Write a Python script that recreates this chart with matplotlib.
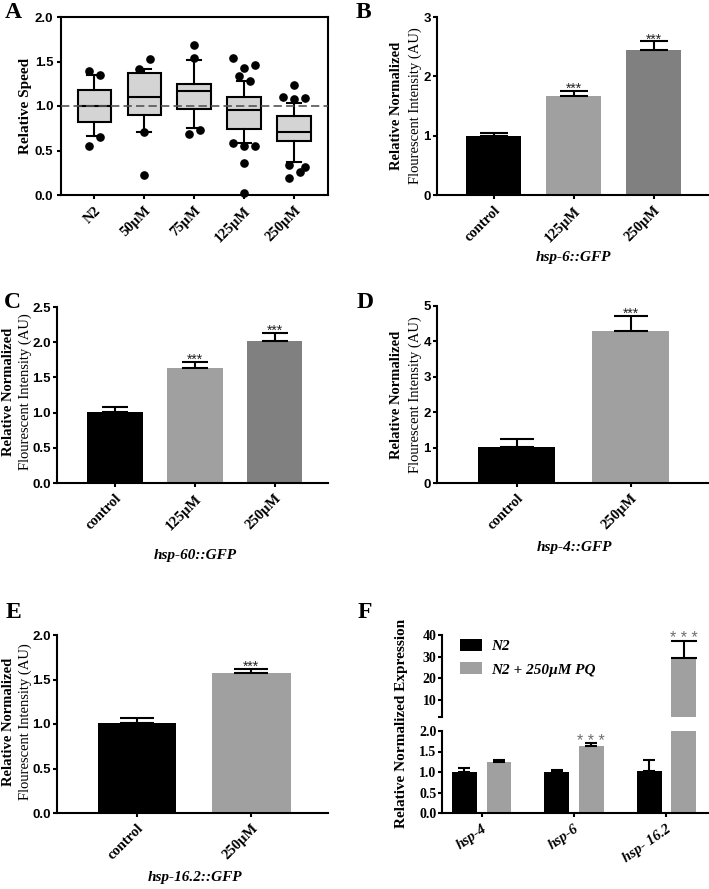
import matplotlib
matplotlib.use('Agg')
import matplotlib.pyplot as plt
from matplotlib.patches import Patch
import numpy as np

W, H = 709, 889
fig = plt.figure(figsize=(W / 100, H / 100), dpi=100)

SERIF = 'Liberation Serif'
SANS = 'Liberation Sans'
LW = 1.5
LIGHT = '#a0a0a0'
DARK = '#808080'
BOXFILL = '#d4d4d4'

# ---------------- Data ----------------
# Panel A: box plots of relative speed
a_groups = ['N2', '50µM', '75µM', '125µM', '250µM']
a_q1 = [0.815, 0.897, 0.961, 0.744, 0.609]
a_med = [0.998, 1.099, 1.163, 0.950, 0.703]
a_q3 = [1.185, 1.372, 1.252, 1.099, 0.886]
a_whislo = [0.665, 0.710, 0.755, 0.579, 0.366]
a_whishi = [1.346, 1.417, 1.521, 1.286, 1.039]
a_out_n2 = [1.39, 1.346, 0.65, 0.553]
a_out_50 = [1.533, 1.413, 0.703, 0.228]
a_out_75 = [1.69, 1.544, 0.684, 0.733]
a_out_125 = [1.54, 1.465, 1.424, 1.335, 1.279, 0.579, 0.55, 0.553, 0.363, 0.026]
a_out_250 = [1.237, 1.103, 1.084, 1.092, 0.336, 0.318, 0.254, 0.187]
# horizontal jitter of the outlier dots (in category units)
a_jit_n2 = [-0.11, 0.11, 0.11, -0.11]
a_jit_50 = [0.11, -0.11, 0.0, 0.0]
a_jit_75 = [0.0, 0.0, -0.11, 0.11]
a_jit_125 = [-0.22, 0.22, 0.0, -0.11, 0.11, -0.22, 0.0, 0.22, 0.0, 0.0]
a_jit_250 = [0.0, -0.22, 0.0, 0.22, -0.11, 0.22, 0.11, -0.11]

# Panel B: hsp-6::GFP
b_cats = ['control', '125µM', '250µM']
b_vals = [0.99, 1.67, 2.44]
b_errs = [0.06, 0.09, 0.15]

# Panel C: hsp-60::GFP
c_cats = ['control', '125µM', '250µM']
c_vals = [1.015, 1.63, 2.02]
c_errs = [0.06, 0.095, 0.115]

# Panel D: hsp-4::GFP
d_cats = ['control', '250µM']
d_vals = [1.02, 4.29]
d_errs = [0.22, 0.44]

# Panel E: hsp-16.2::GFP
e_cats = ['control', '250µM']
e_vals = [1.01, 1.575]
e_errs = [0.06, 0.045]

# Panel F: qPCR
f_genes = ['hsp-4', 'hsp-6', 'hsp- 16.2']
f_n2 = [1.01, 1.01, 1.02]
f_n2_err = [0.09, 0.04, 0.28]
f_pq = [1.25, 1.63, 29.2]
f_pq_err = [0.05, 0.07, 8.2]
f_series = ['N2', 'N2 + 250µM PQ']


# ---------------- Helpers ----------------
def px_axes(l, t, r, b):
    return fig.add_axes([l / W, 1 - b / H, (r - l) / W, (b - t) / H])


def ftext(x, y, s, **kw):
    return fig.text(x / W, 1 - y / H, s, **kw)


def style(ax, full=False, pad=1.5):
    for sp in ax.spines.values():
        sp.set_linewidth(LW)
    if not full:
        ax.spines['top'].set_visible(False)
        ax.spines['right'].set_visible(False)
    ax.tick_params(direction='out', width=LW, length=3, top=False, right=False)
    ax.tick_params(axis='y', pad=pad)


def yticks_sans(ax, ticks, fmt):
    ax.set_yticks(ticks, [fmt.format(t) for t in ticks], fontfamily=SANS,
                  fontweight='bold', fontsize=9.5)


def two_line_ylabel(x1, x2, yc):
    ftext(x1, yc, 'Relative Normalized', rotation=90, ha='center', va='center',
          family=SERIF, weight='bold', size=10.5)
    ftext(x2, yc, 'Flourescent Intensity (AU)', rotation=90, ha='center',
          va='center', family=SERIF, weight='normal', size=10.5)


def bar_panel(ax, cats, vals, errs, colors, width, xlim, ylim, ticks, fmt,
              capsize, stars):
    x = np.arange(len(cats))
    ax.bar(x, vals, width, color=colors, zorder=2)
    ax.errorbar(x, vals, yerr=[np.zeros(len(vals)), errs], fmt='none',
                ecolor='black', elinewidth=LW, capsize=capsize, capthick=LW,
                zorder=3)
    for i, st in enumerate(stars):
        if st:
            ax.annotate(st, (x[i], vals[i] + errs[i]), xytext=(0, -1.5),
                        textcoords='offset points', ha='center',
                        va='baseline', fontsize=10, family=SANS, color='#222222')
    ax.set_xlim(*xlim)
    ax.set_ylim(*ylim)
    style(ax)
    yticks_sans(ax, ticks, fmt)
    ax.set_xticks(x, cats, rotation=45, ha='right', rotation_mode='anchor',
                  fontfamily=SERIF, fontweight='bold', fontsize=10.5)


# ---------------- Panel A ----------------
axA = px_axes(61, 17, 328, 195)
stats = []
for i in range(len(a_groups)):
    stats.append(dict(med=a_med[i], q1=a_q1[i], q3=a_q3[i],
                      whislo=a_whislo[i], whishi=a_whishi[i], fliers=[]))
posA = np.arange(len(a_groups))
axA.bxp(stats, positions=posA, widths=0.67, capwidths=0.28, patch_artist=True,
        showfliers=False,
        boxprops=dict(facecolor=BOXFILL, edgecolor='black', linewidth=LW),
        medianprops=dict(color='black', linewidth=LW),
        whiskerprops=dict(color='black', linewidth=LW),
        capprops=dict(color='black', linewidth=LW))
outs = [a_out_n2, a_out_50, a_out_75, a_out_125, a_out_250]
jits = [a_jit_n2, a_jit_50, a_jit_75, a_jit_125, a_jit_250]
for i in range(len(a_groups)):
    axA.plot(posA[i] + np.array(jits[i]), outs[i], 'o', color='black',
             markersize=5.2, zorder=4, clip_on=False)
axA.axhline(1.0, color='#555555', lw=1.2, ls=(0, (5, 2.5)), zorder=5)
axA.set_xlim(-0.667, 4.68)
axA.set_ylim(0, 2.0)
style(axA, full=True, pad=2.5)
yticks_sans(axA, [0.0, 0.5, 1.0, 1.5, 2.0], '{:.1f}')
axA.set_xticks(posA, a_groups, rotation=45, ha='right', rotation_mode='anchor',
               fontfamily=SERIF, fontweight='bold', fontsize=10.5)
ftext(26, 106, 'Relative Speed', rotation=90, ha='center', va='center',
      family=SERIF, weight='bold', size=11)

# ---------------- Panel B ----------------
axB = px_axes(437, 17, 708, 195)
bar_panel(axB, b_cats, b_vals, b_errs, ['black', LIGHT, DARK], 0.69,
          (-0.71, 2.68), (0, 3), [0, 1, 2, 3], '{:d}', 10, ['', '***', '***'])
two_line_ylabel(397, 415, 106)
ftext(573, 257, 'hsp-6::GFP', ha='center', va='center', family=SERIF,
      weight='bold', style='italic', size=11)

# ---------------- Panel C ----------------
axC = px_axes(57, 307, 328, 483)
bar_panel(axC, c_cats, c_vals, c_errs, ['black', LIGHT, DARK], 0.70,
          (-0.725, 2.67), (0, 2.5), [0.0, 0.5, 1.0, 1.5, 2.0, 2.5], '{:.1f}',
          9.6, ['', '***', '***'])
two_line_ylabel(9, 25, 392)
ftext(195, 555, 'hsp-60::GFP', ha='center', va='center', family=SERIF,
      weight='bold', style='italic', size=11)

# ---------------- Panel D ----------------
axD = px_axes(437, 306, 708, 483)
bar_panel(axD, d_cats, d_vals, d_errs, ['black', LIGHT], 0.68,
          (-0.70, 1.68), (0, 5), [0, 1, 2, 3, 4, 5], '{:d}', 12, ['', '***'])
two_line_ylabel(397, 415, 395)
ftext(574, 548, 'hsp-4::GFP', ha='center', va='center', family=SERIF,
      weight='bold', style='italic', size=11)

# ---------------- Panel E ----------------
axE = px_axes(57, 635, 328, 813)
bar_panel(axE, e_cats, e_vals, e_errs, ['black', LIGHT], 0.69,
          (-0.70, 1.67), (0, 2.0), [0.0, 0.5, 1.0, 1.5, 2.0], '{:.1f}', 12,
          ['', '***'])
two_line_ylabel(9, 25, 722)
ftext(195, 877, 'hsp-16.2::GFP', ha='center', va='center', family=SERIF,
      weight='bold', style='italic', size=11)

# ---------------- Panel F (broken axis) ----------------
axFt = px_axes(442, 635, 708, 717)
axFb = px_axes(442, 731, 708, 813)
TOP_LO, TOP_HI = 2, 40
xf = np.arange(len(f_genes))
off, bw = 0.187, 0.27
n2 = np.array(f_n2)
pq = np.array(f_pq)
n2e = np.array(f_n2_err)
pqe = np.array(f_pq_err)
for ax, cs, lim in ((axFt, 9.5, TOP_LO), (axFb, 4.5, None)):
    m1 = np.ones(len(xf), bool) if lim is None else (n2 + n2e) > lim
    m2 = np.ones(len(xf), bool) if lim is None else (pq + pqe) > lim
    if m1.any():
        ax.bar(xf[m1] - off, n2[m1], bw, color='black', zorder=2)
        ax.errorbar(xf[m1] - off, n2[m1], yerr=[np.zeros(m1.sum()), n2e[m1]],
                    fmt='none', ecolor='black', elinewidth=LW, capsize=cs,
                    capthick=LW, zorder=3)
    if m2.any():
        ax.bar(xf[m2] + off, pq[m2], bw, color=LIGHT, zorder=2)
        ax.errorbar(xf[m2] + off, pq[m2], yerr=[np.zeros(m2.sum()), pqe[m2]],
                    fmt='none', ecolor='black', elinewidth=LW, capsize=cs,
                    capthick=LW, zorder=3)
    ax.set_xlim(-0.43, 2.45)
    for sp in ax.spines.values():
        sp.set_linewidth(LW)
    ax.spines['top'].set_visible(False)
    ax.spines['right'].set_visible(False)
    ax.tick_params(direction='out', width=LW, length=3)
    ax.tick_params(axis='y', pad=1)

axFt.set_ylim(TOP_LO, TOP_HI)
axFt.spines['bottom'].set_visible(False)
axFt.set_xticks([])
axFt.set_yticks([2, 10, 20, 30, 40], ['', '10', '20', '30', '40'],
                fontfamily=SERIF, fontweight='bold', fontsize=10)
axFb.set_ylim(0, 2.0)
axFb.set_yticks([0.0, 0.5, 1.0, 1.5, 2.0],
                ['0.0', '0.5', '1.0', '1.5', '2.0'],
                fontfamily=SERIF, fontweight='bold', fontsize=10)
axFb.set_xticks(xf, f_genes, rotation=35, ha='right', rotation_mode='anchor',
                fontfamily=SERIF, fontweight='bold', fontstyle='italic',
                fontsize=10.5)

# significance stars for panel F
axFb.annotate('* * *', (xf[1] + off, f_pq[1] + f_pq_err[1]), xytext=(0, -2),
              textcoords='offset points', ha='center', va='baseline',
              fontsize=11.5, family=SANS, color='#6e6e6e', annotation_clip=False)
axFt.annotate('* * *', (xf[2] + off, f_pq[2] + f_pq_err[2]), xytext=(0, -2),
              textcoords='offset points', ha='center', va='baseline',
              fontsize=11.5, family=SANS, color='#6e6e6e', annotation_clip=False)

handles = [Patch(facecolor='black'), Patch(facecolor=LIGHT)]
axFt.legend(handles, f_series, loc='upper left', bbox_to_anchor=(0.068, 0.95),
            frameon=False, borderpad=0, borderaxespad=0, handlelength=1.45,
            handleheight=0.8, handletextpad=0.55, labelspacing=0.6,
            prop=dict(family=SERIF, weight='bold', style='italic', size=11))
ftext(402, 723, 'Relative Normalized Expression', rotation=90, ha='center',
      va='center', family=SERIF, weight='bold', size=11)

# ---------------- Panel letters ----------------
for lab, (x, y) in zip('ABCDEF', [(13, 13), (363, 13), (12, 303), (365, 302),
                                   (13, 613), (365, 613)]):
    ftext(x, y, lab, ha='center', va='center', family=SERIF, weight='bold',
          size=17)

fig.savefig('out.png', dpi=100)
